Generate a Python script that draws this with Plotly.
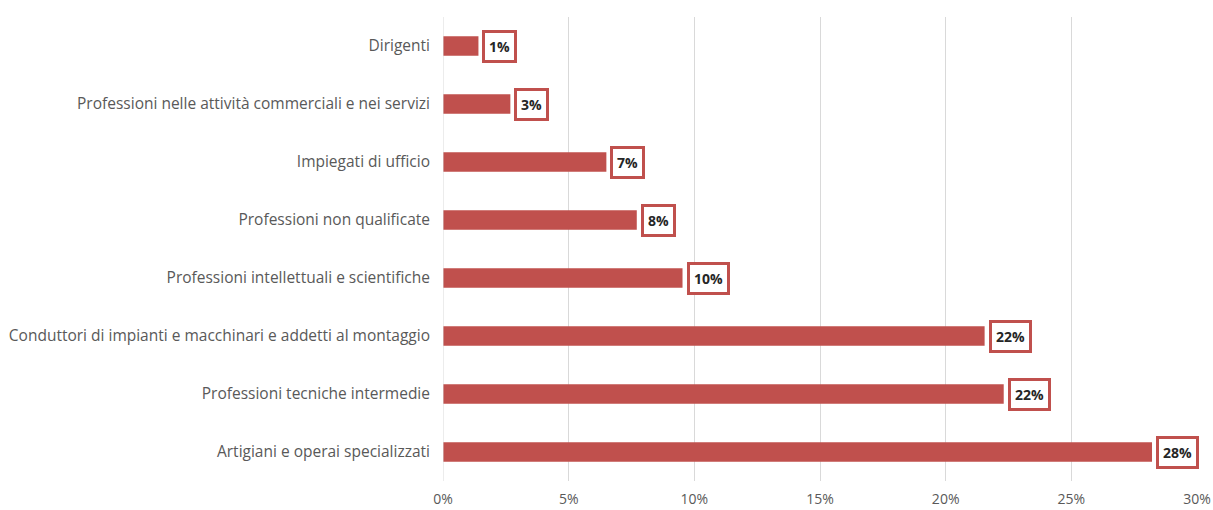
import plotly.graph_objects as go

# Occupation categories, top to bottom as displayed
categories = [
    "Dirigenti",
    "Professioni nelle attività commerciali e nei servizi",
    "Impiegati di ufficio",
    "Professioni non qualificate",
    "Professioni intellettuali e scientifiche",
    "Conduttori di impianti e macchinari e addetti al montaggio",
    "Professioni tecniche intermedie",
    "Artigiani e operai specializzati",
]
# Share of each occupation (fraction)
shares = [0.0141, 0.0268, 0.0650, 0.0771, 0.0953, 0.2155, 0.2231, 0.2821]

tick_vals = [0, 0.05, 0.10, 0.15, 0.20, 0.25, 0.30]
tick_text = ["0%", "5%", "10%", "15%", "20%", "25%", "30%"]

BAR = "#C0504D"
FONT = "Open Sans"

fig = go.Figure(
    go.Bar(
        x=shares,
        y=categories,
        orientation="h",
        marker=dict(color=BAR, line=dict(width=0)),
        hoverinfo="skip",
    )
)

# Boxed value labels next to each bar end
for cat, v in zip(categories, shares):
    fig.add_annotation(
        x=v,
        y=cat,
        xref="x",
        yref="y",
        text="<b>{:.0f}%</b>".format(v * 100 + 1e-9),
        showarrow=False,
        xanchor="left",
        yanchor="middle",
        xshift=4,
        font=dict(family=FONT, size=14, color="#262626"),
        bgcolor="white",
        bordercolor=BAR,
        borderwidth=3,
        borderpad=4,
    )

fig.update_layout(
    width=1213,
    height=510,
    margin=dict(l=443, r=16, t=17, b=29),
    paper_bgcolor="white",
    plot_bgcolor="white",
    bargap=0.66,
    showlegend=False,
    font=dict(family=FONT, size=15, color="#595959"),
    xaxis=dict(
        range=[0, 0.30],
        tickvals=tick_vals,
        ticktext=tick_text,
        showgrid=True,
        gridcolor="#D9D9D9",
        gridwidth=1,
        zeroline=False,
        showline=False,
        ticks="",
        automargin=False,
        tickfont=dict(family=FONT, size=14, color="#595959"),
        ticklabelstandoff=8,
    ),
    yaxis=dict(
        categoryorder="array",
        categoryarray=categories[::-1],
        showgrid=False,
        zeroline=False,
        showline=False,
        ticks="",
        automargin=False,
        ticklabelstandoff=12,
        tickfont=dict(family=FONT, size=15.5, color="#595959"),
    ),
)

# Vertical axis line at 0%
fig.add_shape(type="line", xref="x", yref="paper", x0=0, x1=0, y0=0, y1=1,
              line=dict(color="#D9D9D9", width=1))

fig.write_html("out.html")
